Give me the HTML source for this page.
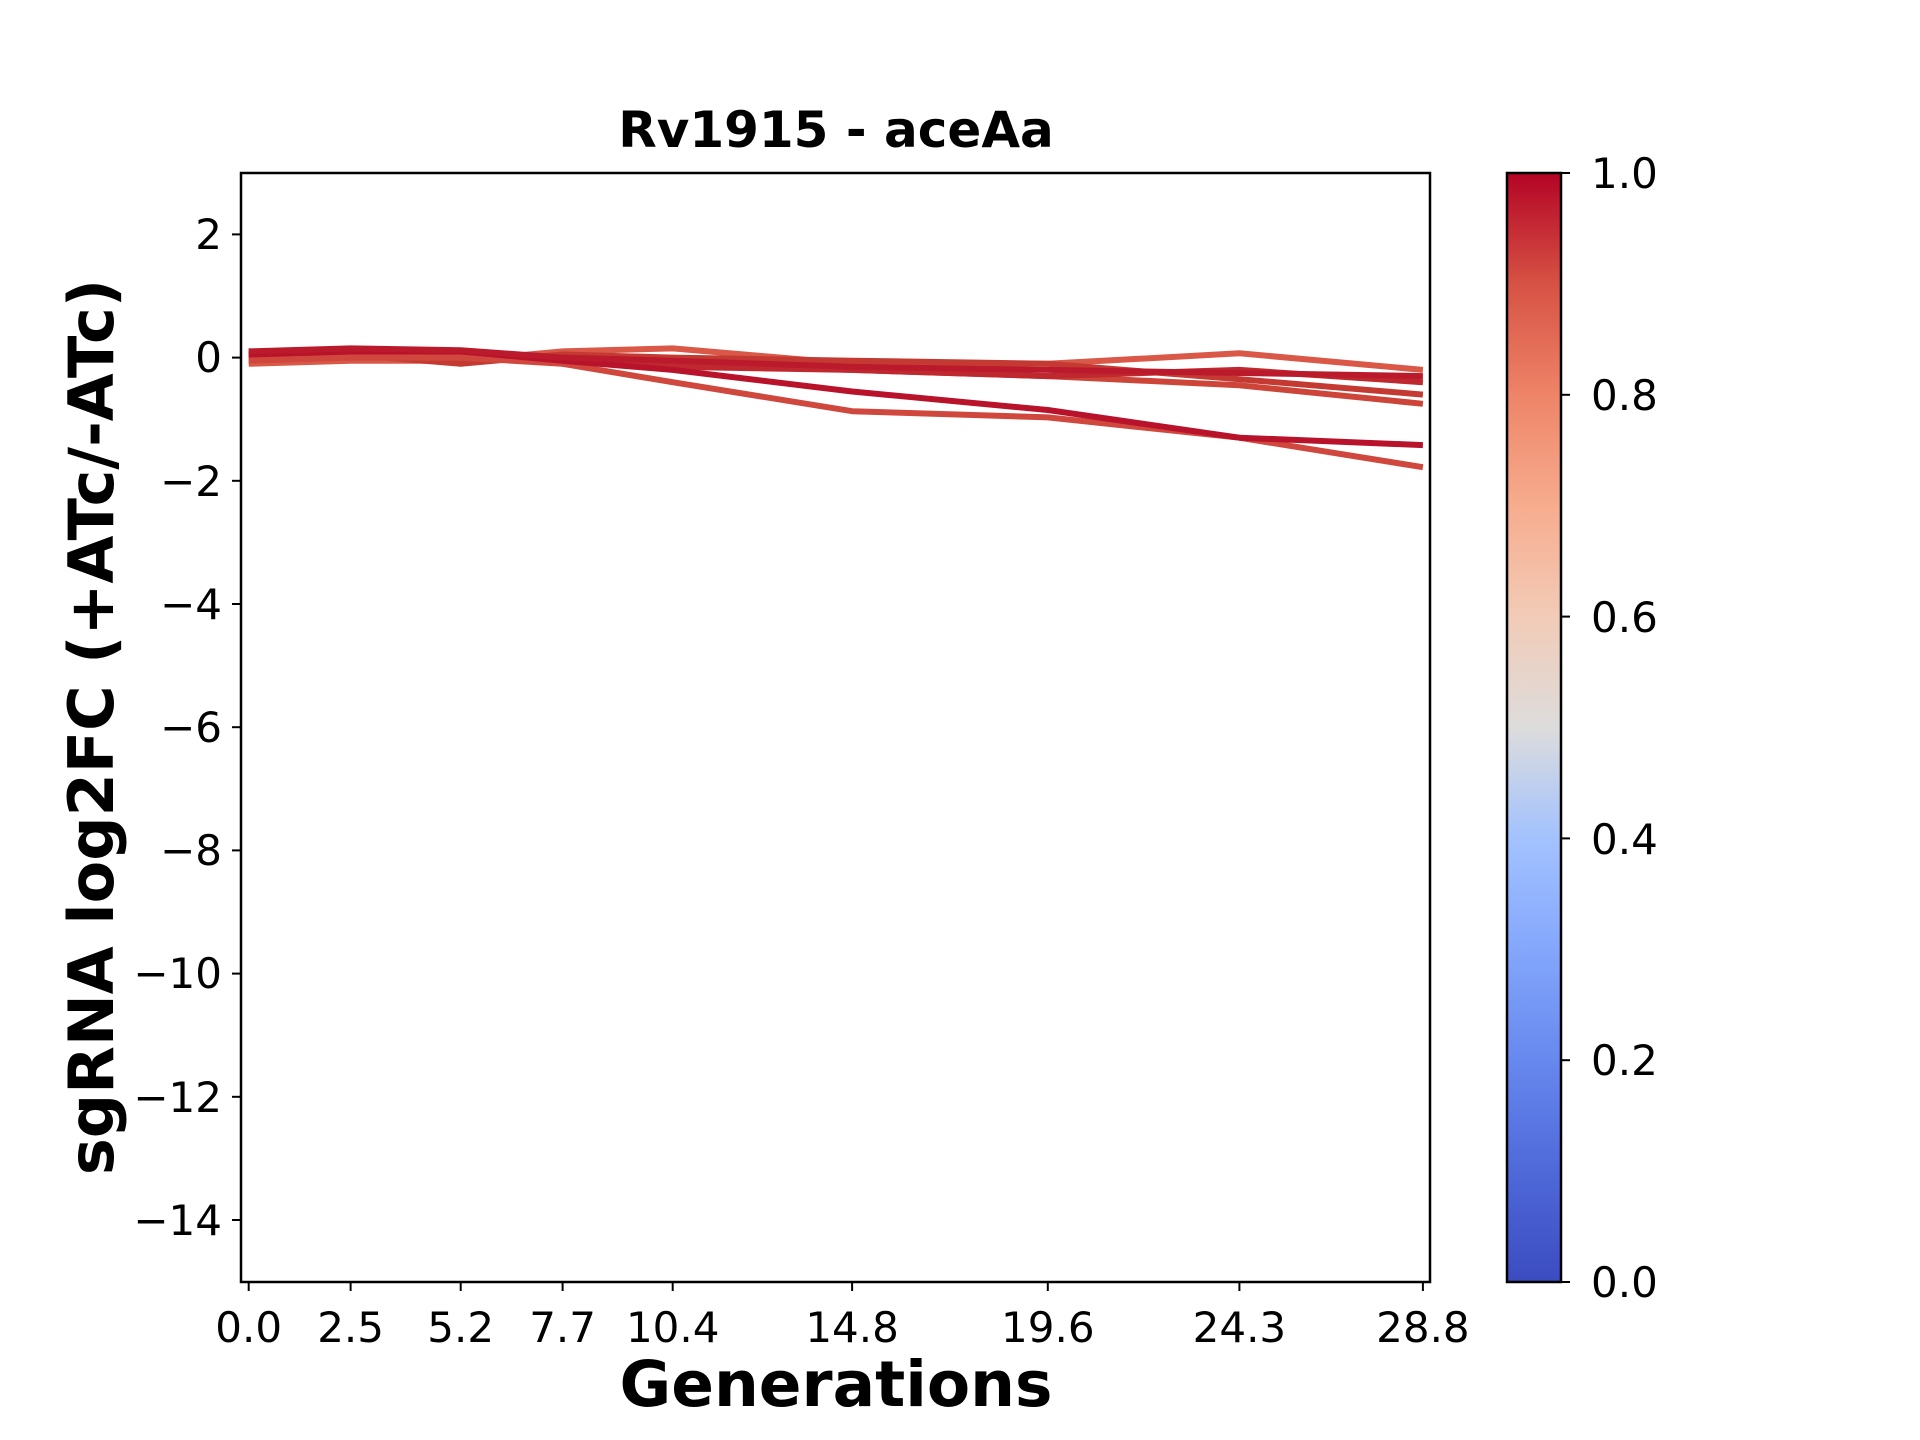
<!DOCTYPE html>
<html><head><meta charset="utf-8"><style>html,body{margin:0;padding:0;background:#fff}svg{display:block}</style></head>
<body>
<svg width="1920" height="1440" viewBox="0 0 1920 1440" xmlns="http://www.w3.org/2000/svg" font-family="DejaVu Sans, Liberation Sans, sans-serif">
<defs>
<linearGradient id="cw" x1="0" y1="1" x2="0" y2="0">
<stop offset="0" stop-color="#3b4cc0"/>
<stop offset="0.1" stop-color="#4f69d9"/>
<stop offset="0.2" stop-color="#6788ee"/>
<stop offset="0.3" stop-color="#84a7fc"/>
<stop offset="0.4" stop-color="#a3c2fe"/>
<stop offset="0.5" stop-color="#dddcdc"/>
<stop offset="0.6" stop-color="#f2cbb7"/>
<stop offset="0.7" stop-color="#f7ac8e"/>
<stop offset="0.8" stop-color="#ee8468"/>
<stop offset="0.9" stop-color="#d65244"/>
<stop offset="1" stop-color="#b40426"/>
</linearGradient>
<clipPath id="ax"><rect x="241" y="173" width="1189" height="1109"/></clipPath>
</defs>
<g clip-path="url(#ax)" fill="none" stroke-width="6" stroke-linejoin="round">
<polyline stroke="#d95847" points="248.7,363.8 350.6,360.7 460.7,360.7 562.6,351.4 672.7,348.4 852.1,363.8 1047.8,363.8 1239.4,353.3 1422.9,369.9"/>
<polyline stroke="#c43a33" points="248.7,357.6 350.6,354.5 460.7,363.8 562.6,354.5 672.7,357.6 852.1,360.7 1047.8,363.8 1239.4,379.2 1422.9,394.6"/>
<polyline stroke="#cc4538" points="248.7,354.5 350.6,357.6 460.7,357.6 562.6,357.6 672.7,363.8 852.1,369.9 1047.8,376.1 1239.4,385.3 1422.9,403.8"/>
<polyline stroke="#c0282f" points="248.7,351.4 350.6,354.5 460.7,354.5 562.6,357.6 672.7,366.8 852.1,369.9 1047.8,376.1 1239.4,369.9 1422.9,382.2"/>
<polyline stroke="#d0473d" points="248.7,360.7 350.6,357.6 460.7,357.6 562.6,363.8 672.7,382.2 852.1,411.2 1047.8,417.4 1239.4,437.7 1422.9,467.2"/>
<polyline stroke="#b9122b" points="248.7,354.5 350.6,351.4 460.7,351.4 562.6,360.7 672.7,369.9 852.1,391.5 1047.8,410 1239.4,437.7 1422.9,445.1"/>
<polyline stroke="#bb1a2c" points="248.7,351.4 350.6,348.4 460.7,350.2 562.6,357.6 672.7,360.7 852.1,366.8 1047.8,369.9 1239.4,373 1422.9,376.1"/>
</g>
<rect x="241" y="173" width="1189" height="1109" fill="none" stroke="#000" stroke-width="2.5"/>
<g stroke="#000" stroke-width="2">
<line x1="241" y1="234.4" x2="232" y2="234.4"/><line x1="241" y1="357.6" x2="232" y2="357.6"/>
<line x1="241" y1="480.8" x2="232" y2="480.8"/><line x1="241" y1="604" x2="232" y2="604"/>
<line x1="241" y1="727.2" x2="232" y2="727.2"/><line x1="241" y1="850.4" x2="232" y2="850.4"/>
<line x1="241" y1="973.6" x2="232" y2="973.6"/><line x1="241" y1="1096.8" x2="232" y2="1096.8"/>
<line x1="241" y1="1220" x2="232" y2="1220"/>
<line x1="248.7" y1="1282" x2="248.7" y2="1291"/><line x1="350.6" y1="1282" x2="350.6" y2="1291"/>
<line x1="460.7" y1="1282" x2="460.7" y2="1291"/><line x1="562.6" y1="1282" x2="562.6" y2="1291"/>
<line x1="672.7" y1="1282" x2="672.7" y2="1291"/><line x1="852.1" y1="1282" x2="852.1" y2="1291"/>
<line x1="1047.8" y1="1282" x2="1047.8" y2="1291"/><line x1="1239.4" y1="1282" x2="1239.4" y2="1291"/>
<line x1="1422.9" y1="1282" x2="1422.9" y2="1291"/>
</g>
<g font-size="42" text-anchor="end" fill="#000">
<text x="222" y="249">2</text><text x="222" y="372">0</text><text x="222" y="496">−2</text>
<text x="222" y="619">−4</text><text x="222" y="742">−6</text><text x="222" y="865">−8</text>
<text x="222" y="988">−10</text><text x="222" y="1112">−12</text><text x="222" y="1235">−14</text>
</g>
<g font-size="42" text-anchor="middle" fill="#000">
<text x="248.7" y="1342">0.0</text><text x="350.6" y="1342">2.5</text><text x="460.7" y="1342">5.2</text>
<text x="562.6" y="1342">7.7</text><text x="672.7" y="1342">10.4</text><text x="852.1" y="1342">14.8</text>
<text x="1047.8" y="1342">19.6</text><text x="1239.4" y="1342">24.3</text><text x="1422.9" y="1342">28.8</text>
</g>
<text x="836" y="1406" font-size="63" font-weight="bold" text-anchor="middle">Generations</text>
<text transform="translate(113,727) rotate(-90)" font-size="62" font-weight="bold" text-anchor="middle">sgRNA log2FC (+ATc/-ATc)</text>
<text x="836" y="147" font-size="50" font-weight="bold" text-anchor="middle">Rv1915 - aceAa</text>
<rect x="1507" y="173" width="54" height="1109" fill="url(#cw)" stroke="#000" stroke-width="2.5"/>
<g stroke="#000" stroke-width="2">
<line x1="1561" y1="173" x2="1570" y2="173"/><line x1="1561" y1="394.8" x2="1570" y2="394.8"/>
<line x1="1561" y1="616.6" x2="1570" y2="616.6"/><line x1="1561" y1="838.4" x2="1570" y2="838.4"/>
<line x1="1561" y1="1060.2" x2="1570" y2="1060.2"/><line x1="1561" y1="1282" x2="1570" y2="1282"/>
</g>
<g font-size="42" fill="#000">
<text x="1591" y="188">1.0</text><text x="1591" y="410">0.8</text><text x="1591" y="632">0.6</text>
<text x="1591" y="854">0.4</text><text x="1591" y="1075">0.2</text><text x="1591" y="1297">0.0</text>
</g>
</svg>
</body></html>
